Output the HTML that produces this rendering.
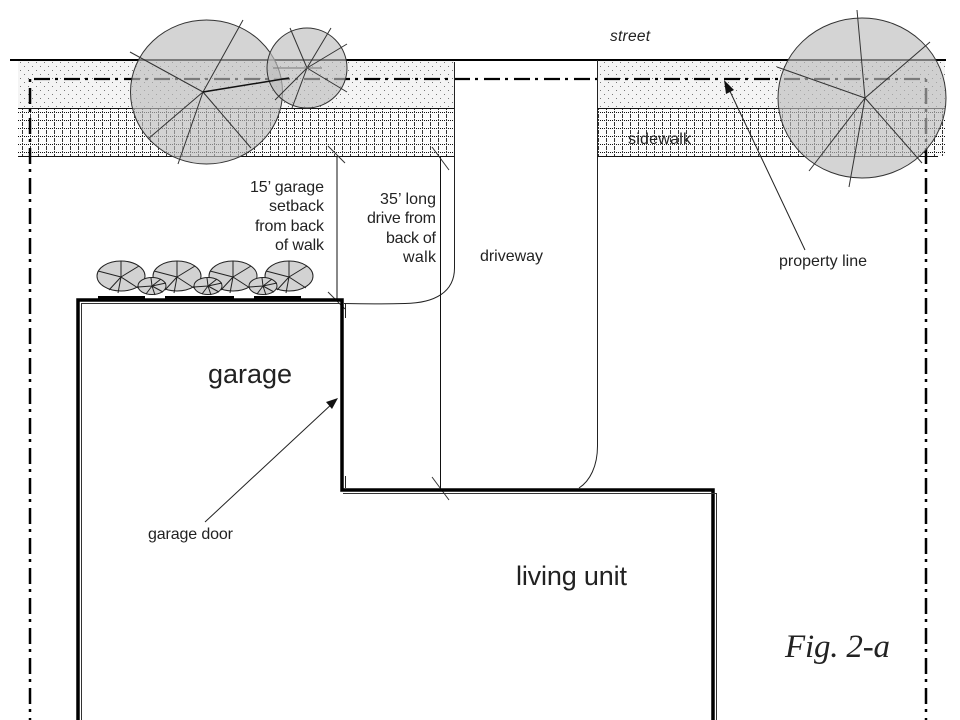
<!DOCTYPE html>
<html>
<head>
<meta charset="utf-8">
<style>
html,body{margin:0;padding:0;background:#fff;width:960px;height:720px;overflow:hidden}
svg{display:block}
text{font-family:"Liberation Sans",sans-serif;fill:#222}
</style>
</head>
<body>
<svg width="960" height="720" viewBox="0 0 960 720" xmlns="http://www.w3.org/2000/svg">
<defs>
<pattern id="dots" width="8" height="8" patternUnits="userSpaceOnUse" x="18" y="60">
<rect width="8" height="8" fill="#f4f4f4"/>
<rect x="2" y="2" width="1" height="1" fill="#777"/>
<rect x="6" y="6" width="1" height="1" fill="#777"/>
</pattern>
<pattern id="grid" width="8" height="8" patternUnits="userSpaceOnUse" x="18" y="108">
<rect width="8" height="8" fill="#fbfbfb"/>
<path d="M0 4.500H8" stroke="#111" stroke-width="1" stroke-dasharray="1 1"/>
<path d="M4.500 0V8" stroke="#333" stroke-width="1" stroke-dasharray="2 1"/>
</pattern>
<g id="bigshrub" fill="none" stroke="#222" stroke-width="1">
<ellipse cx="0" cy="0" rx="24" ry="15" fill="#d2d2d2"/>
<path d="M0 1L0 -15M0 1L18 -10M0 1L17 12M0 1L-3 17M0 1L-12 14M0 1L-23 -5"/>
</g>
<g id="smallshrub" fill="none" stroke="#222" stroke-width="1">
<ellipse cx="0" cy="0" rx="14" ry="8.500" fill="#d2d2d2"/>
<path d="M0 0L-1 -8M0 0L9 -7M0 0L14 -3M0 0L11 6M0 0L3 9M0 0L-6 8M0 0L-14 1"/>
</g>
</defs>

<rect width="960" height="720" fill="#fff"/>

<!-- sidewalk bands -->
<rect x="18" y="60" width="436" height="48" fill="url(#dots)"/>
<rect x="598" y="60" width="347" height="48" fill="url(#dots)"/>
<rect x="18" y="108" width="436" height="48" fill="url(#grid)"/>
<rect x="598" y="108" width="347" height="48" fill="url(#grid)"/>
<path d="M18 108.500H454M18 156.500H454M598 108.500H945M598 156.500H938" stroke="#111" stroke-width="1" fill="none"/>

<!-- street -->
<path d="M10 60H946" stroke="#000" stroke-width="2" fill="none"/>

<!-- property line -->
<path d="M30 79H926" fill="none" stroke="#000" stroke-width="2.200" stroke-dasharray="16 5 3 6" stroke-dashoffset="26"/>
<path d="M30 79V720M926 79V720" fill="none" stroke="#000" stroke-width="2.500" stroke-dasharray="16 5 3 6" stroke-dashoffset="21"/>

<!-- driveway -->
<path d="M454.500 62V268C454.500 292 435 303 405 303.500C385 304 365 304 344 303.500" fill="none" stroke="#222" stroke-width="1"/>
<path d="M597.500 60V446C597.500 466 590 481 579 488" fill="none" stroke="#222" stroke-width="1"/>

<!-- dimensions -->
<path d="M337 156V300M440.500 156V490" stroke="#111" stroke-width="1" fill="none"/>
<path d="M328 146L345 163M432 147L449 170M328 292L345 309M432 477L449 500" stroke="#333" stroke-width="1" fill="none"/>

<!-- trees -->
<g stroke="#333" stroke-width="1">
<ellipse cx="206.500" cy="92" rx="76" ry="72" fill="#bdbdbd" fill-opacity=".65"/>
<ellipse cx="307" cy="68" rx="40" ry="40" fill="#bdbdbd" fill-opacity=".65"/>
<ellipse cx="862" cy="98" rx="84" ry="80" fill="#bdbdbd" fill-opacity=".65"/>
</g>
<g stroke="#333" stroke-width="1" fill="none">
<path d="M203 92L243 20M203 92L130 52M203 92L148 139M203 92L178 164M203 92L251 148"/>
<path d="M203 92L289 78" stroke-width="1.500" stroke="#111"/>
<path d="M307 68L290 28M307 68L331 28M307 68L347 44M307 68L347 92M307 68L292 108M307 68L275 100"/>
<path d="M273 68H322" stroke="#777"/>
<path d="M865 98L857 10M865 98L930 42M865 98L777 67M865 98L809 171M865 98L849 187M865 98L922 163"/>
</g>

<!-- shrubs -->
<use href="#bigshrub" x="121" y="276"/>
<use href="#bigshrub" x="177" y="276"/>
<use href="#bigshrub" x="233" y="276"/>
<use href="#bigshrub" x="289" y="276"/>
<use href="#smallshrub" x="152" y="286"/>
<use href="#smallshrub" x="208" y="286"/>
<use href="#smallshrub" x="263" y="286"/>

<!-- garage doors -->
<rect x="98" y="296" width="47" height="3" fill="#000"/>
<rect x="165" y="296" width="69" height="3" fill="#000"/>
<rect x="254" y="296" width="47" height="3" fill="#000"/>

<!-- building walls -->
<path d="M78 720V300H342V490H713V720" fill="none" stroke="#000" stroke-width="3.500"/>
<path d="M81.500 720V303.500H340M343 493.500H716.500V720" fill="none" stroke="#333" stroke-width="1"/>
<path d="M345.500 304V318M345.500 476V488" stroke="#222" stroke-width="1" fill="none"/>

<!-- arrows -->
<path d="M805 250L727 85" stroke="#222" stroke-width="1" fill="none"/>
<polygon points="724,80 734,90 726,94" fill="#111"/>
<path d="M205 522L334 402" stroke="#222" stroke-width="1" fill="none"/>
<polygon points="338,398 332,409 326,402" fill="#111"/>

<!-- labels -->
<text x="610" y="41" font-size="15.500" font-style="italic" textLength="40" lengthAdjust="spacing">street</text>
<text x="628" y="144" font-size="16" textLength="63" lengthAdjust="spacing">sidewalk</text>
<g font-size="16" text-anchor="end" lengthAdjust="spacing">
<text x="324" y="192" textLength="74">15’ garage</text>
<text x="324" y="211" textLength="55">setback</text>
<text x="324" y="231" textLength="69">from back</text>
<text x="324" y="250" textLength="49">of walk</text>
<text x="436" y="204" textLength="56">35’ long</text>
<text x="436" y="223" textLength="69">drive from</text>
<text x="436" y="243" textLength="50">back of</text>
<text x="436" y="262" textLength="33">walk</text>
</g>
<text x="480" y="261" font-size="16" textLength="63" lengthAdjust="spacing">driveway</text>
<text x="779" y="266" font-size="16" textLength="88" lengthAdjust="spacing">property line</text>
<text x="148" y="539" font-size="16" textLength="85" lengthAdjust="spacing">garage door</text>
<text x="208" y="383" font-size="27" textLength="84" lengthAdjust="spacing">garage</text>
<text x="516" y="585" font-size="27" textLength="111" lengthAdjust="spacing">living unit</text>
<text x="785" y="657" font-size="33" font-style="italic" textLength="105" lengthAdjust="spacing" style="font-family:'Liberation Serif',serif">Fig. 2-a</text>
</svg>
</body>
</html>
